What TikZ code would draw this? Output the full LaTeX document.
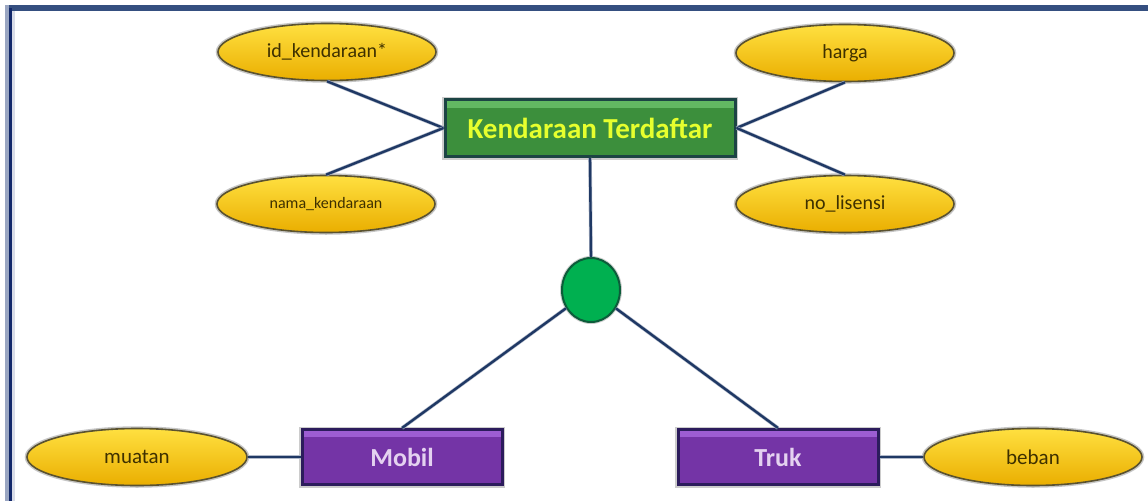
\documentclass[tikz,border=0pt]{standalone}
\usepackage{fontspec}
\setmainfont{Carlito}
\usetikzlibrary{shapes.geometric}

% palette
\definecolor{frametop}{HTML}{354F80}
\definecolor{framedark}{HTML}{12286A}
\definecolor{framelight}{HTML}{9AA6C2}
\definecolor{framepale}{HTML}{D8DCE8}
\definecolor{linkcol}{HTML}{1F3864}
\definecolor{attrtop}{HTML}{FFE040}
\definecolor{attrmid}{HTML}{FFCC00}
\definecolor{attrbot}{HTML}{EAAE00}
\definecolor{attrline}{HTML}{5A5230}
\definecolor{attrtext}{HTML}{3E3000}
\definecolor{entfill}{HTML}{3C8F3C}
\definecolor{entstrip}{HTML}{62B862}
\definecolor{entline}{HTML}{1C4444}
\definecolor{enttext}{HTML}{E6FF2E}
\definecolor{subfill}{HTML}{7434A6}
\definecolor{substrip}{HTML}{9D5DD2}
\definecolor{subline}{HTML}{2C1C5C}
\definecolor{subtext}{HTML}{E4D2F0}
\definecolor{isafill}{HTML}{00B050}
\definecolor{isaline}{HTML}{0C5C3A}

\tikzset{
  attr/.style={ellipse, minimum width=218pt, minimum height=57pt, inner sep=0pt,
    draw=attrline, line width=1.6pt,
    top color=attrtop, middle color=attrmid, bottom color=attrbot,
    preaction={draw=gray!45, line width=4.5pt},
    text=attrtext, font=\fontsize{20}{22}\selectfont},
  entity/.style={rectangle, minimum width=290pt, minimum height=57pt, inner sep=0pt,
    fill=entfill, draw=entline, line width=3pt,
    preaction={draw=gray!40, line width=6pt},
    path picture={\fill[entstrip] ([yshift=-1.5pt]path picture bounding box.north west)
      rectangle ([yshift=-8pt]path picture bounding box.north east);},
    text=enttext, font=\bfseries\fontsize{29}{31}\selectfont},
  subentity/.style={rectangle, minimum width=200pt, minimum height=55pt, inner sep=0pt,
    fill=subfill, draw=subline, line width=3pt,
    preaction={draw=gray!40, line width=6pt},
    path picture={\fill[substrip] ([yshift=-1.5pt]path picture bounding box.north west)
      rectangle ([yshift=-7pt]path picture bounding box.north east);},
    text=subtext, font=\bfseries\fontsize{26}{28}\selectfont},
  isanode/.style={ellipse, minimum width=58pt, minimum height=64pt, inner sep=0pt,
    fill=isafill, draw=isaline, line width=2pt,
    preaction={draw=gray!40, line width=4pt}},
  link/.style={draw=linkcol, line width=2.4pt,
    preaction={draw=linkcol!35, line width=3.6pt}}
}

\begin{document}
\begin{tikzpicture}[x=1pt, y=-1pt]
  \useasboundingbox (0,0) rectangle (1148,501);
  \fill[white] (0,0) rectangle (1148,501);

  % page frame (top bar and left rule)
  \fill[frametop] (5,5) rectangle (1148,11);
  \fill[framelight] (5,5) rectangle (9,501);
  \fill[framedark] (9,8) rectangle (12,501);
  \fill[framepale] (12,11) rectangle (15,501);

  % entity and its attributes
  \node[entity] (kt) at (590,128) {Kendaraan Terdaftar};
  \node[attr] (idk) at (327,52) {id\_kendaraan*};
  \node[attr, font=\fontsize{16}{18}\selectfont] (nama) at (326,204) {nama\_kendaraan};
  \node[attr] (harga) at (845,53) {harga};
  \node[attr] (nolis) at (845,204) {no\_lisensi};

  % specialisation into subtypes
  \node[isanode] (isa) at (591,290) {};
  \node[subentity] (mobil) at (402,457) {Mobil};
  \node[subentity] (truk) at (778,457) {Truk};
  \node[attr, minimum width=220pt, font=\fontsize{21}{23}\selectfont] (muatan) at (137,457) {muatan};
  \node[attr, font=\fontsize{21}{23}\selectfont] (beban) at (1033,457) {beban};

  % links
  \path[link] (idk.south) -- (kt.west);
  \path[link] (nama.north) -- (kt.west);
  \path[link] (harga.south) -- (kt.east);
  \path[link] (nolis.north) -- (kt.east);
  \path[link] (kt.south) -- (isa.north);
  \path[link] (isa) -- (mobil.north);
  \path[link] (isa) -- (truk.north);
  \path[link] (muatan.east) -- (mobil.west);
  \path[link] (truk.east) -- (beban.west);
\end{tikzpicture}
\end{document}
